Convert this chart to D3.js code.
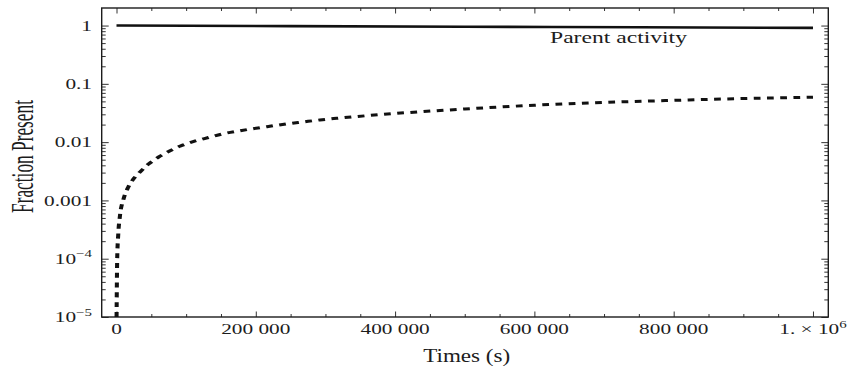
<!DOCTYPE html>
<html>
<head>
<meta charset="utf-8">
<script src="https://cdn.jsdelivr.net/npm/d3@7"></script>
<style>
  html, body { margin: 0; padding: 0; background: #fff; }
  svg { display: block; }
</style>
</head>
<body>
<svg id="chart" width="850" height="371"></svg>
<script>
// ---------------- data ----------------
const xTicks = [0, 200000, 400000, 600000, 800000, 1000000];
const xTickLabels = ["0", "200 000", "400 000", "600 000", "800 000", "1. × 10^6"];
const yTicks = [1, 0.1, 0.01, 0.001, 1e-4, 1e-5];
const yTickLabels = ["1", "0.1", "0.01", "0.001", "10^−4", "10^−5"];

const parentTime = [0, 250000, 500000, 750000, 1000000];
const parentFraction = [1, 0.978, 0.956, 0.934, 0.913];

const daughterTime = [100, 1000, 2500, 5000, 10000, 17000, 24000, 34000, 46000, 60000,
  77000, 91000, 110000, 132000, 153000, 175000, 196000, 220000, 244000, 268000,
  292000, 316000, 400000, 500000, 600000, 700000, 800000, 900000, 1000000];
const daughterFraction = [1e-5, 1e-4, 2.6e-4, 5.5e-4, 1.05e-3, 1.7e-3, 2.3e-3, 3.1e-3, 4.2e-3, 5.5e-3,
  7.1e-3, 8.5e-3, 0.0102, 0.012, 0.0139, 0.0155, 0.017, 0.0187, 0.0205, 0.0222,
  0.024, 0.0256, 0.031, 0.037, 0.043, 0.048, 0.052, 0.056, 0.059];

const seriesLabel = "Parent activity";
const xTitle = "Times (s)";
const yTitle = "Fraction Present";

// ---------------- layout ----------------
const frame = { left: 101.7, right: 828.3, top: 8, bottom: 317 };
const ink = "#1c1c1c";
const font = "'Liberation Serif', 'Times New Roman', serif";
const stretch = 1.42;      // horizontal stretch of the tick labels
const lineStretch = 1.35;  // horizontal stretch of the dashed curve's pen

const svg = d3.select("#chart");

const x = d3.scaleLinear().domain([-21250, 1022000]).range([frame.left, frame.right]);
const y = d3.scaleLog().domain([1e-5, 2]).range([frame.bottom, frame.top]);

// minor tick values derived from the major ones
const xMinor = d3.range(xTicks[0], xTicks[xTicks.length - 1] + 1, (xTicks[1] - xTicks[0]) / 4)
  .filter(v => !xTicks.includes(v));
const yMinor = [];
yTicks.forEach(t => { for (let k = 2; k <= 9; k++) { const v = t * k; if (v < y.domain()[1] * 0.99) yMinor.push(v); } });

function axisGroup(axis, tx, ty) {
  const g = svg.append("g").attr("transform", `translate(${tx},${ty})`).call(axis);
  g.select(".domain").remove();
  g.selectAll("line").attr("stroke", "#333").attr("stroke-width", 1);
  g.selectAll("text").remove();
  return g;
}

// ticks, all inward, on four sides
axisGroup(d3.axisBottom(x).tickValues(xTicks).tickSize(-5.5), 0, frame.bottom);
axisGroup(d3.axisBottom(x).tickValues(xMinor).tickSize(-3), 0, frame.bottom);
axisGroup(d3.axisTop(x).tickValues(xTicks).tickSize(-5.5), 0, frame.top);
axisGroup(d3.axisTop(x).tickValues(xMinor).tickSize(-3), 0, frame.top);
axisGroup(d3.axisLeft(y).tickValues(yTicks).tickSize(-7), frame.left, 0);
axisGroup(d3.axisLeft(y).tickValues(yMinor).tickSize(-4), frame.left, 0);
axisGroup(d3.axisRight(y).tickValues(yTicks).tickSize(-7), frame.right, 0);
axisGroup(d3.axisRight(y).tickValues(yMinor).tickSize(-4), frame.right, 0);

// frame
svg.append("rect")
  .attr("x", frame.left).attr("y", frame.top)
  .attr("width", frame.right - frame.left).attr("height", frame.bottom - frame.top)
  .attr("fill", "none").attr("stroke", ink).attr("stroke-width", 1.4);

// tick labels (with superscripts)
function addLabel(cx, cy, label, anchor) {
  const t = svg.append("text")
    .attr("transform", `translate(${cx},${cy}) scale(${stretch},1)`)
    .attr("text-anchor", anchor)
    .attr("font-family", font).attr("font-size", 15).attr("fill", ink);
  const parts = label.split("^");
  t.append("tspan").text(parts[0]);
  if (parts.length > 1) {
    t.append("tspan").attr("font-size", 10.5).attr("dy", -6.5).text(parts[1]);
  }
  return t;
}
xTicks.forEach((v, i) => addLabel(x(v), 334, xTickLabels[i], "middle"));
yTicks.forEach((v, i) => addLabel(92, y(v) + 5.2, yTickLabels[i], "end"));

// clip
svg.append("clipPath").attr("id", "plotclip").append("rect")
  .attr("x", frame.left).attr("y", frame.top)
  .attr("width", frame.right - frame.left).attr("height", frame.bottom - frame.top);

const line = d3.line().x(d => x(d[0])).y(d => y(d[1])).curve(d3.curveMonotoneX);

const plot = svg.append("g").attr("clip-path", "url(#plotclip)");
plot.append("path")
  .datum(parentTime.map((t, i) => [t, parentFraction[i]]))
  .attr("d", line).attr("fill", "none").attr("stroke", "#111").attr("stroke-width", 2.6);

// dashed curve drawn with a horizontally stretched pen (as in the reference image)
const x0 = frame.left;
const lineStretched = d3.line()
  .x(d => (x(d[0]) - x0) / lineStretch + x0)
  .y(d => y(d[1]))
  .curve(d3.curveMonotoneX);
plot.append("g")
  .attr("transform", `translate(${x0},0) scale(${lineStretch},1) translate(${-x0},0)`)
  .append("path")
  .datum(daughterTime.map((t, i) => [t, daughterFraction[i]]))
  .attr("d", lineStretched).attr("fill", "none").attr("stroke", "#111").attr("stroke-width", 3)
  .attr("stroke-dasharray", "5,4.8");

// series label
svg.append("text")
  .attr("x", 550).attr("y", 43)
  .attr("font-family", font).attr("font-size", 17.5).attr("fill", ink)
  .attr("textLength", 137).attr("lengthAdjust", "spacingAndGlyphs")
  .text(seriesLabel);

// axis titles
svg.append("text")
  .attr("x", 466.7).attr("y", 361.5).attr("text-anchor", "middle")
  .attr("font-family", font).attr("font-size", 18).attr("fill", ink)
  .attr("textLength", 87).attr("lengthAdjust", "spacingAndGlyphs")
  .text(xTitle);

svg.append("text")
  .attr("transform", "translate(33,156.5) scale(1.85,1) rotate(-90)")
  .attr("text-anchor", "middle")
  .attr("font-family", font).attr("font-size", 17.3).attr("fill", ink)
  .attr("textLength", 113).attr("lengthAdjust", "spacingAndGlyphs")
  .text(yTitle);
</script>
</body>
</html>
